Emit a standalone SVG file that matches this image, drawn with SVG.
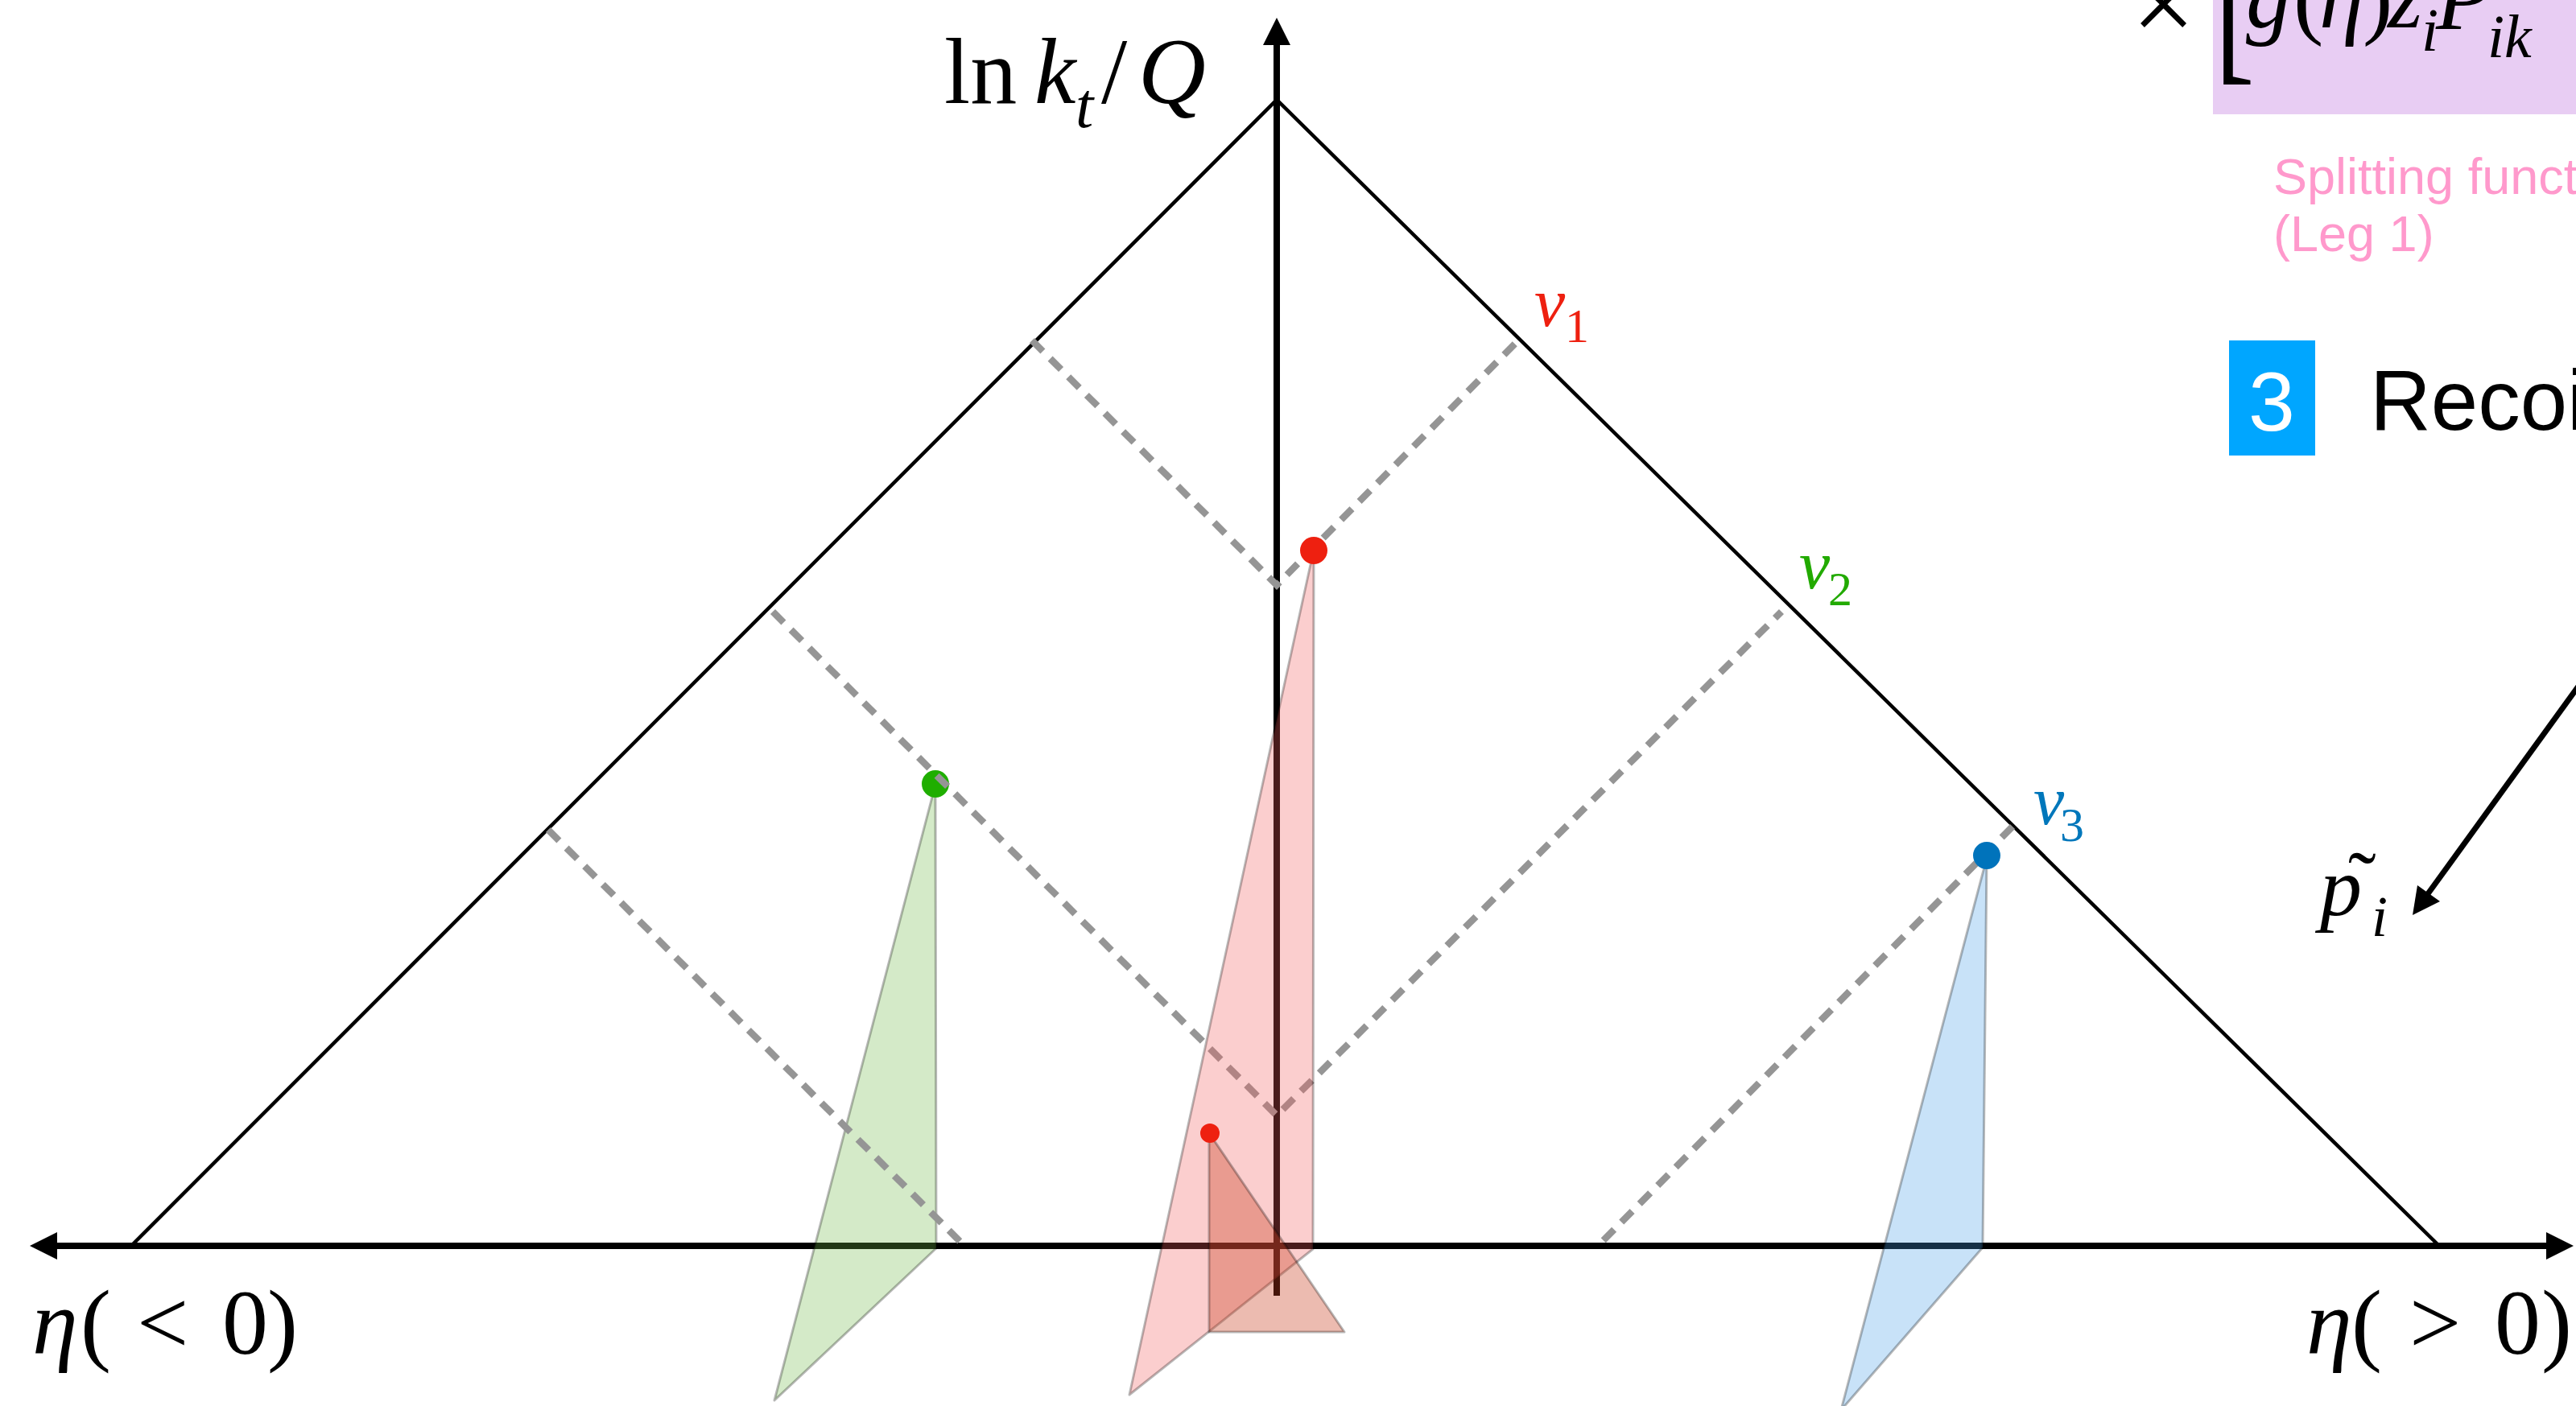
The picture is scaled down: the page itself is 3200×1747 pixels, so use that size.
<svg xmlns="http://www.w3.org/2000/svg" width="3200" height="1747" viewBox="0 0 3200 1747">
<defs>
<style>
.serif{font-family:"Liberation Serif","Times New Roman",serif;}
.it{font-style:italic;}
.sans{font-family:"Liberation Sans",Arial,sans-serif;}
.edge{fill:none;stroke:#000;stroke-width:4.5;stroke-linejoin:miter;}
.axis{stroke:#000;stroke-width:8;fill:none;}
.dash{stroke:#959595;stroke-width:8.5;stroke-dasharray:19 13;fill:none;}
.cone{stroke:#000;stroke-opacity:0.28;stroke-width:3;stroke-linejoin:round;}
</style>
</defs>
<rect width="3200" height="1747" fill="#fff"/>

<g id="lund-triangle">
<polyline class="edge" points="163,1548 1586,124 3030,1548"/>
</g>

<g id="axes">
<line class="axis" x1="60" y1="1548" x2="3170" y2="1548"/>
<polygon points="37,1548 71,1531 71,1565" fill="#000"/>
<polygon points="3197,1548 3163,1531 3163,1565" fill="#000"/>
<line class="axis" x1="1586" y1="1610" x2="1586" y2="45"/>
<polygon points="1586,22 1569,56 1603,56" fill="#000"/>
</g>

<g id="emission-v2">
<polygon class="cone" points="1162,975 1163,1551 962,1740" fill="rgb(112,185,72)" fill-opacity="0.3"/>
<circle cx="1162" cy="974" r="17" fill="#1FAE00"/>
</g>

<g id="connectors">
<polyline class="dash" points="1282,423 1586,727 1885,424"/>
<polyline class="dash" points="960,760 1586,1386 2213,760"/>
<line class="dash" x1="681" y1="1031" x2="1196" y2="1546"/>
<line class="dash" x1="2500" y1="1027" x2="1988" y2="1545"/>
<line x1="3215" y1="836" x2="3015" y2="1112" stroke="#000" stroke-width="7"/>
<polygon points="2997,1137 3031,1120 3003,1100" fill="#000"/>
</g>

<g id="emission-v1">
<polygon class="cone" points="1632,683 1631,1552 1403,1733" fill="rgb(242,92,92)" fill-opacity="0.3"/>
<polygon class="cone" points="1502,1408 1502,1655 1670,1655" fill="rgb(200,60,30)" fill-opacity="0.35"/>
<circle cx="1632" cy="684" r="17" fill="#EE2010"/>
<circle cx="1503" cy="1408" r="12" fill="#EE2010"/>
</g>

<g id="emission-v3">
<polygon class="cone" points="2468,1066 2463,1550 2287,1752" fill="rgb(72,158,232)" fill-opacity="0.3"/>
<circle cx="2468" cy="1063" r="17" fill="#0073BB"/>
</g>

<g id="labels" class="serif">
<text font-size="116"><tspan x="1173" y="128">ln</tspan><tspan class="it" x="1285" y="128">k</tspan><tspan class="it" x="1336" y="158" font-size="80">t</tspan><tspan x="1368" y="128">/</tspan><tspan class="it" x="1414" y="128">Q</tspan></text>
<text font-size="114" y="1682"><tspan class="it" x="40">η</tspan><tspan x="100">(</tspan><tspan x="170">&lt;</tspan><tspan x="276">0</tspan><tspan x="332">)</tspan></text>
<text font-size="114" y="1682"><tspan class="it" x="2865">η</tspan><tspan x="2921">(</tspan><tspan x="2993">&gt;</tspan><tspan x="3099">0</tspan><tspan x="3157">)</tspan></text>
<text fill="#EE2010"><tspan class="it" x="1906" y="405" font-size="86">v</tspan><tspan x="1944" y="425" font-size="60">1</tspan></text>
<text fill="#22AA00"><tspan class="it" x="2235" y="731" font-size="86">v</tspan><tspan x="2271" y="752" font-size="60">2</tspan></text>
<text fill="#0077BB"><tspan class="it" x="2526" y="1024" font-size="86">v</tspan><tspan x="2559" y="1045" font-size="60">3</tspan></text>
<text font-size="104"><tspan class="it" x="2882" y="1137">p</tspan><tspan class="it" x="2946" y="1163" font-size="72">i</tspan></text>
<text font-size="104" x="2917" y="1130">˜</text>
</g>

<g id="formula-panel">
<rect x="2749" y="-20" width="480" height="162" fill="#E8CDF3"/>
<text class="serif" font-size="140" x="2648" y="52">×</text>
<text class="serif" font-size="150" transform="translate(2751,109) scale(1,1.5)" x="0" y="-23">[</text>
<text class="serif" font-size="112"><tspan class="it" x="2790" y="34">g</tspan><tspan x="2849" y="34">(</tspan><tspan class="it" x="2881" y="34">η</tspan><tspan x="2935" y="34">)</tspan><tspan class="it" x="2966" y="34">z</tspan><tspan class="it" x="3008" y="63" font-size="76">i</tspan><tspan class="it" x="3026" y="36">P</tspan><tspan class="it" x="3090" y="71" font-size="76">ik</tspan></text>
<text class="sans" font-size="63" fill="#FF99CC"><tspan x="2824" y="241">Splitting function</tspan><tspan x="2824" y="312">(Leg 1)</tspan></text>
</g>

<g id="step-3">
<rect x="2769" y="423" width="107" height="143" fill="#00A6FF"/>
<text class="sans" font-size="104" fill="#fff" x="2822" y="535" text-anchor="middle">3</text>
<text class="sans" font-size="105" fill="#000" x="2944" y="534">Recoil</text>
</g>
</svg>
